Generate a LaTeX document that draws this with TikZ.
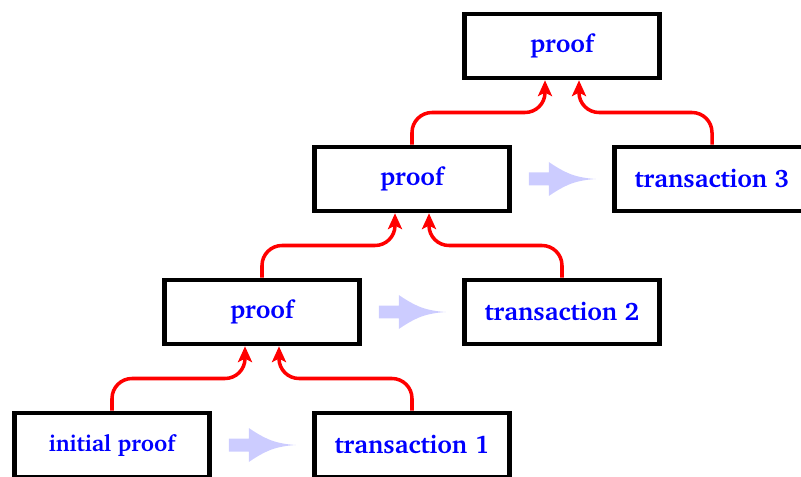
\documentclass[tikz,border=0pt]{standalone}
\usepackage[T1]{fontenc}
\usepackage{charter}
\usetikzlibrary{calc,arrows.meta}
\tikzset{
  box/.style={draw, line width=2.6pt, minimum width=3.9cm, minimum height=1.28cm, text=blue, font=\bfseries\Large},
  link/.style={red, line width=2pt, rounded corners=0.4cm, -{Stealth[length=9pt,width=8pt,inset=2pt]}},
  flow/.style={fill=blue!20, draw=none}
}
\newcommand{\flowarrow}[1]{%
  \fill[flow] ($(#1)+(0,0.13)$) -- ++(0.4,0) -- ++(0,0.21)
    .. controls +(0.3,-0.2) and +(-0.45,0.03) .. ++(0.94,-0.34)
    .. controls +(-0.45,-0.03) and +(0.3,0.2) .. ++(-0.94,-0.34)
    -- ++(0,0.21) -- ++(-0.4,0) -- cycle;}
\begin{document}
\begin{tikzpicture}
	\useasboundingbox (-2.24,-0.62) rectangle (13.78,8.9);
	\node[box, font=\bfseries\fontsize{13}{15}\selectfont] (ip) at (0,0) {initial proof};
	\node[box] (t1) at ($(ip)+(6,0)$) {transaction 1};
	\node[box] (p1) at ($(ip)+(3,2.66)$) {proof};
	\node[box] (t2) at ($(p1)+(6,0)$) {transaction 2};
	\node[box] (p2) at ($(p1)+(3,2.66)$) {proof};
	\node[box] (t3) at ($(p2)+(6,0)$) {transaction 3};
	\node[box] (p3) at ($(p2)+(3,2.66)$) {proof};
	% flow arrows
	\flowarrow{$(ip.east)+(0.34,0)$}
	\flowarrow{$(p1.east)+(0.34,0)$}
	\flowarrow{$(p2.east)+(0.34,0)$}
	% red links
	\coordinate (p1l) at ($(p1.south)+(-0.34,0)$);
	\coordinate (p1r) at ($(p1.south)+(0.34,0)$);
	\coordinate (p2l) at ($(p2.south)+(-0.34,0)$);
	\coordinate (p2r) at ($(p2.south)+(0.34,0)$);
	\coordinate (p3l) at ($(p3.south)+(-0.34,0)$);
	\coordinate (p3r) at ($(p3.south)+(0.34,0)$);
	\draw[link] (ip.north) |- ($(ip.north)!0.5!(p1l)$) -| (p1l);
	\draw[link] (t1.north) |- ($(t1.north)!0.5!(p1r)$) -| (p1r);
	\draw[link] (p1.north) |- ($(p1.north)!0.5!(p2l)$) -| (p2l);
	\draw[link] (t2.north) |- ($(t2.north)!0.5!(p2r)$) -| (p2r);
	\draw[link] (p2.north) |- ($(p2.north)!0.5!(p3l)$) -| (p3l);
	\draw[link] (t3.north) |- ($(t3.north)!0.5!(p3r)$) -| (p3r);
\end{tikzpicture}
\end{document}
